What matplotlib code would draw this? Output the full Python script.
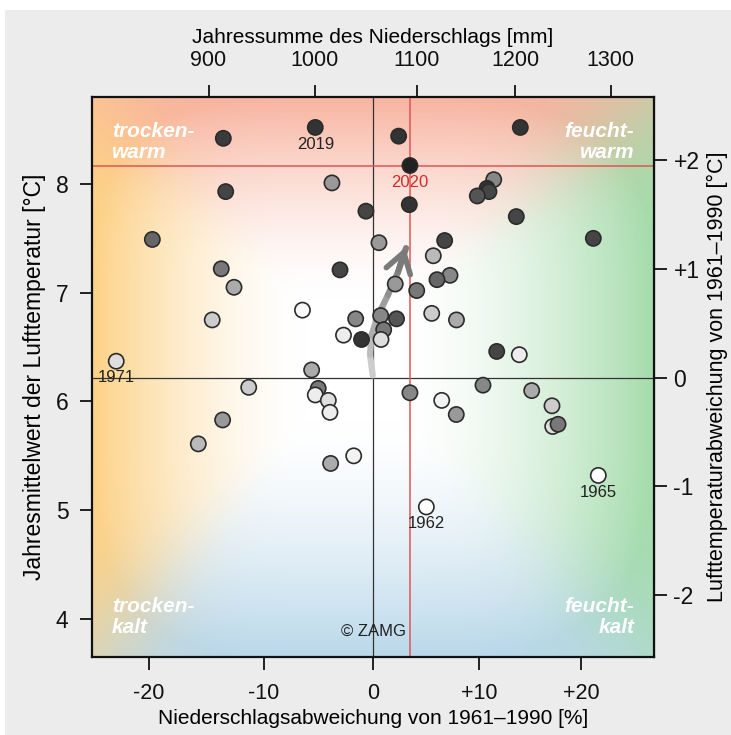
import numpy as np
import matplotlib
matplotlib.use("Agg")
import matplotlib.pyplot as plt
from matplotlib.collections import LineCollection
from matplotlib.patches import Rectangle

plt.rcParams["font.family"] = ["Liberation Sans", "DejaVu Sans"]

# ---------------- data ----------------
# precipitation deviation from 1961-1990 [%]
precip_dev = [-13.56, -5.35, -3.83, -13.35, -0.70, -19.69, 0.51, -13.74, -3.09, -12.62,
              2.35, 14.01, 3.41, 11.42, 10.77, 10.96, 9.83, 3.35, 13.62, 21.25,
              6.70, 5.62, 7.21, 5.97, 2.03, 4.05, -6.51, -1.65, 0.67, 2.15,
              5.47, 7.83, -2.77, -1.11, 0.95, 0.70, -5.68, -5.08, 3.41, -14.53,
              -22.74, -11.32, -5.35, -4.16, -4.01, -13.62, -15.74, -3.95, -1.83, 11.71,
              13.91, 10.38, 6.42, 15.13, 7.81, 17.13, 17.20, 17.73, 21.75, 4.96]
# annual mean air temperature [deg C]
temp_mean = [8.42, 8.52, 8.01, 7.93, 7.75, 7.49, 7.46, 7.22, 7.21, 7.05,
             8.44, 8.52, 8.17, 8.04, 7.96, 7.93, 7.89, 7.81, 7.70, 7.50,
             7.48, 7.34, 7.16, 7.12, 7.08, 7.02, 6.84, 6.76, 6.79, 6.76,
             6.81, 6.75, 6.61, 6.57, 6.66, 6.57, 6.29, 6.12, 6.08, 6.75,
             6.37, 6.13, 6.06, 6.01, 5.90, 5.83, 5.61, 5.43, 5.50, 6.46,
             6.43, 6.15, 6.01, 6.10, 5.88, 5.96, 5.77, 5.79, 5.32, 5.03]
# grey level of each marker (0 = black, 1 = white)
grey_level = [0.23, 0.20, 0.60, 0.27, 0.27, 0.40, 0.60, 0.47, 0.27, 0.67,
              0.20, 0.20, 0.13, 0.53, 0.20, 0.27, 0.33, 0.20, 0.27, 0.27,
              0.27, 0.73, 0.53, 0.40, 0.60, 0.47, 0.98, 0.53, 0.53, 0.33,
              0.80, 0.67, 0.93, 0.20, 0.47, 0.87, 0.67, 0.47, 0.53, 0.80,
              0.87, 0.80, 0.93, 0.87, 0.93, 0.60, 0.73, 0.67, 0.95, 0.27,
              0.93, 0.53, 0.95, 0.67, 0.60, 0.80, 0.87, 0.47, 1.00, 1.00]

labels_text = ["2019", "2020", "1971", "1962", "1965"]
labels_idx = [1, 12, 40, 59, 58]

# trajectory (moving mean) arrow
arrow_x = [-0.07, -0.32, -0.19, 0.42, 1.35, 2.29, 3.04]
arrow_t = [6.24, 6.43, 6.61, 6.79, 6.98, 7.19, 7.41]

T_REF = 6.22      # 1961-1990 mean temperature
P_REF = 1057.0    # 1961-1990 mean precipitation [mm]
POW = 0.6

x_ticks = [-20, -10, 0, 10, 20]
x_ticklabels = ["-20", "-10", "0", "+10", "+20"]
y_ticks = [4, 5, 6, 7, 8]
top_ticks = [900, 1000, 1100, 1200, 1300]
right_ticks = [-2, -1, 0, 1, 2]
right_ticklabels = ["-2", "-1", "0", "+1", "+2"]
x_lim = (-24.76, 27.40)
y_lim = (3.65, 8.80)

# ---------------- figure ----------------
W, H = 731, 735
fig = plt.figure(figsize=(W / 100, H / 100), dpi=100, facecolor="white")
fig.patches.append(Rectangle((5 / W, 0), 1, 1 - 10 / H, transform=fig.transFigure,
                             facecolor="#ececec", edgecolor="none", zorder=-10))

ax = fig.add_axes([92 / W, 1 - 657 / H, (654 - 92) / W, (657 - 97) / H])


def fwd(x):
    x = np.asarray(x, dtype=float)
    return np.clip(1 + x / 100.0, 1e-6, None) ** POW


def inv(f):
    f = np.asarray(f, dtype=float)
    return np.clip(f, 1e-6, None) ** (1 / POW) * 100.0 - 100.0


ax.set_xscale("function", functions=(fwd, inv))
ax.set_xlim(*x_lim)
ax.set_ylim(*y_lim)

# background gradient (axes coordinates)
n = 300
u = np.linspace(0, 1, n)[None, :]
v = np.linspace(0, 1, n)[:, None]
wl = np.clip(1 - u / 0.38, 0, 1) ** 1.6 * np.ones_like(v)
wr = np.clip(1 - (1 - u) / 0.45, 0, 1) ** 1.6 * np.ones_like(v)
wt = np.clip(1 - (1 - v) / 0.36, 0, 1) ** 1.5 * np.ones_like(u)
wb = np.clip(1 - v / 0.42, 0, 1) ** 1.5 * np.ones_like(u)
cols = [np.array(c) / 255 for c in [(253, 210, 135), (165, 220, 172), (248, 180, 160), (186, 216, 234)]]
ws = [wl, wr, wt, wb]
wsum = sum(w ** 3 for w in ws) + 1e-9
hue = sum((w ** 3)[..., None] * c for w, c in zip(ws, cols)) / wsum[..., None]
alpha = np.clip(np.sqrt(sum(w ** 2 for w in ws)), 0, 1)[..., None]
img = (1 - alpha) * 1.0 + alpha * hue
ax.imshow(img, extent=[0, 1, 0, 1], transform=ax.transAxes, origin="lower",
          aspect="auto", zorder=0, interpolation="bilinear")

# reference lines
ax.axvline(0, color="#333333", lw=0.9, zorder=1)
ax.axhline(T_REF, color="#333333", lw=0.9, zorder=1)
ax.axvline(precip_dev[12], color="#e05555", lw=1.1, zorder=1)
ax.axhline(temp_mean[12], color="#e05555", lw=1.1, zorder=1)

# arrow (trajectory)
pts = np.column_stack([arrow_x, arrow_t])
segs = [pts[i:i + 2] for i in range(len(pts) - 1)]
greys = np.linspace(0.80, 0.50, len(segs))
lc = LineCollection(segs, colors=[(g, g, g) for g in greys], linewidths=4.5,
                    capstyle="round", joinstyle="round", zorder=2)
ax.add_collection(lc)
ax.annotate("", xy=(arrow_x[-1], arrow_t[-1] + 0.03), xytext=(arrow_x[-2], arrow_t[-2]),
            arrowprops=dict(arrowstyle="->,head_length=0.7,head_width=0.45",
                            color="#7a7a7a", lw=4, mutation_scale=20), zorder=3)

# points
face = [(g, g, g) for g in grey_level]
ax.scatter(precip_dev, temp_mean, s=120, c=face, edgecolors="#2b2b2b", linewidths=1.2, zorder=4)

# year labels
for t, i in zip(labels_text, labels_idx):
    col = "#d42a2a" if t == "2020" else "#222222"
    ax.annotate(t, (precip_dev[i], temp_mean[i]), xytext=(0, -12), textcoords="offset points",
                ha="center", va="center", fontsize=12, color=col, zorder=5)

# quadrant labels
qkw = dict(transform=ax.transAxes, color="white", fontsize=15, fontweight="bold",
           fontstyle="italic", zorder=5, linespacing=1.15)
ax.text(0.035, 0.955, "trocken-\nwarm", ha="left", va="top", **qkw)
ax.text(0.965, 0.955, "feucht-\nwarm", ha="right", va="top", multialignment="right", **qkw)
ax.text(0.035, 0.035, "trocken-\nkalt", ha="left", va="bottom", **qkw)
ax.text(0.965, 0.035, "feucht-\nkalt", ha="right", va="bottom", multialignment="right", **qkw)
ax.text(0.0, 0.045, "© ZAMG", transform=ax.get_xaxis_transform(), ha="center", va="center",
        fontsize=12, color="#222222", zorder=5)

# axes styling
for sp in ax.spines.values():
    sp.set_linewidth(1.6)
    sp.set_color("#111111")
ax.set_xticks(x_ticks)
ax.set_xticklabels(x_ticklabels)
ax.set_yticks(y_ticks)
ax.set_yticklabels([str(t) for t in y_ticks])
ax.minorticks_off()
ax.tick_params(axis="both", direction="out", length=9, width=1.3, labelsize=15.5, colors="#111111")
ax.tick_params(axis="x", pad=10)
ax.tick_params(axis="y", labelsize=16.5, pad=8)
ax.set_xlabel("Niederschlagsabweichung von 1961–1990 [%]", fontsize=15, labelpad=3)
ax.set_ylabel("Jahresmittelwert der Lufttemperatur [°C]", fontsize=16.5, labelpad=7)

# top axis: precipitation sum
axt = ax.twiny()


def fwd_mm(p):
    p = np.asarray(p, dtype=float)
    return np.clip(p / P_REF, 1e-6, None) ** POW


def inv_mm(f):
    f = np.asarray(f, dtype=float)
    return np.clip(f, 1e-6, None) ** (1 / POW) * P_REF


axt.set_xscale("function", functions=(fwd_mm, inv_mm))
axt.set_xlim(P_REF * (1 + x_lim[0] / 100), P_REF * (1 + x_lim[1] / 100))
axt.set_xticks(top_ticks)
axt.set_xticklabels([str(t) for t in top_ticks])
axt.minorticks_off()
axt.tick_params(axis="x", direction="out", length=9, width=1.3, labelsize=15.5, pad=10, colors="#111111")
axt.set_xlabel("Jahressumme des Niederschlags [mm]", fontsize=15, labelpad=5)
for sp in axt.spines.values():
    sp.set_visible(False)

# right axis: temperature deviation
axr = ax.secondary_yaxis("right", functions=(lambda t: t - T_REF, lambda a: a + T_REF))
axr.set_yticks(right_ticks)
axr.set_yticklabels(right_ticklabels)
axr.tick_params(axis="y", direction="out", length=9, width=1.3, labelsize=16.5, pad=5, colors="#111111")
axr.set_ylabel("Lufttemperaturabweichung von 1961–1990 [°C]", fontsize=15.5, labelpad=5)

fig.savefig("out.png", dpi=100, facecolor=fig.get_facecolor())
